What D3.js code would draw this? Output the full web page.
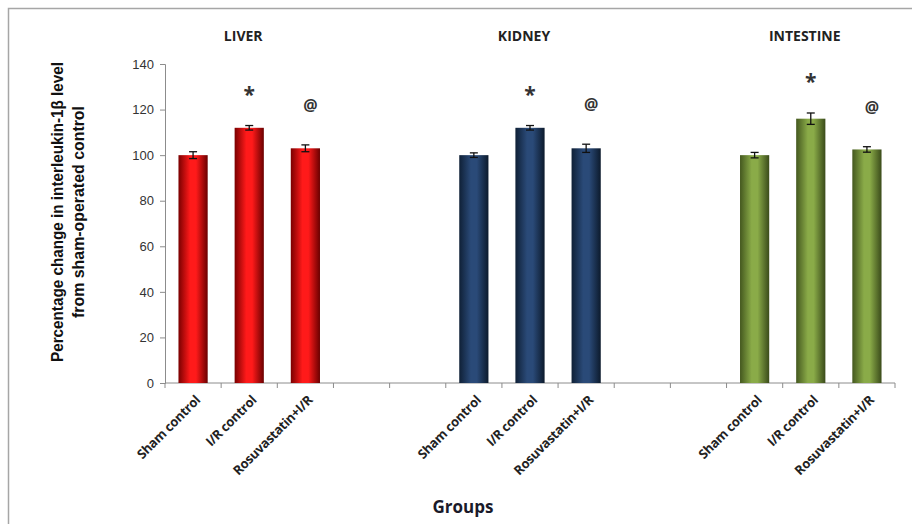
<!DOCTYPE html>
<html>
<head>
<meta charset="utf-8">
<script src="https://cdn.jsdelivr.net/npm/d3@7"></script>
<style>
  body { margin: 0; background: #fff; }
  svg { display: block; font-family: "Open Sans", "Liberation Sans", sans-serif; }
</style>
</head>
<body>
<div class="chart"></div>
<script>
// groups and treatments
let organs = ['LIVER', 'KIDNEY', 'INTESTINE'];
let treatments = ['Sham control', 'I/R control', 'Rosuvastatin+I/R'];
let marks = ['', '*', '@'];

// percentage of sham control (mean, error) per organ
let liverValues = [100, 112, 103];
let liverErrors = [1.5, 1, 1.5];
let kidneyValues = [100, 112, 103];
let kidneyErrors = [1, 1, 1.8];
let intestineValues = [100, 116, 102.5];
let intestineErrors = [1.2, 2.5, 1.2];

let yTicks = [0, 20, 40, 60, 80, 100, 120, 140];

let organColors = [
	['#7a0000', '#ff1a1a', '#6a0000'],
	['#0f2036', '#2a4a78', '#0c1a2c'],
	['#44581f', '#8aab48', '#3a4b1a']
];

let width = 912, height = 524;
let margin = {top: 64, right: 17, bottom: 141, left: 165};
let innerW = width - margin.left - margin.right;
let innerH = height - margin.top - margin.bottom;

let svg = d3.select('.chart')
	.append('svg')
	.attr('width', width)
	.attr('height', height);

// outer frame
svg.append('rect')
	.attr('x', 8.5).attr('y', 8.5)
	.attr('width', width + 10).attr('height', height + 10)
	.style('fill', 'none')
	.style('stroke', '#a6a6a6')
	.style('stroke-width', 1.5);

let defs = svg.append('defs');
organColors.forEach((c, i) => {
	let g = defs.append('linearGradient')
		.attr('id', 'grad' + i)
		.attr('x1', '0%').attr('x2', '100%')
		.attr('y1', '0%').attr('y2', '0%');
	g.append('stop').attr('offset', '0%').attr('stop-color', c[0]);
	g.append('stop').attr('offset', '40%').attr('stop-color', c[1]);
	g.append('stop').attr('offset', '60%').attr('stop-color', c[1]);
	g.append('stop').attr('offset', '100%').attr('stop-color', c[2]);
});

let chart = svg.append('g')
	.attr('transform', 'translate(' + margin.left + ', ' + margin.top + ')');

// slots: 3 bars per organ, 2 empty slots between organs
let slots = [];
let data = [];
let series = [
	[liverValues, liverErrors],
	[kidneyValues, kidneyErrors],
	[intestineValues, intestineErrors]
];
organs.forEach((o, oi) => {
	treatments.forEach((t, ti) => {
		let key = o + '|' + t;
		slots.push(key);
		data.push({organ: oi, treat: ti, key: key, label: t,
			value: series[oi][0][ti], err: series[oi][1][ti]});
	});
	if (oi < organs.length - 1) {
		slots.push('gap' + oi + 'a');
		slots.push('gap' + oi + 'b');
	}
});

let xScale = d3.scaleBand()
	.domain(slots)
	.range([0, innerW])
	.paddingInner(0.48)
	.paddingOuter(0.24);

let step = xScale.step();

let yScale = d3.scaleLinear()
	.domain([0, 140])
	.range([innerH, 0]);

// y axis
let yAxis = chart.append('g')
	.call(d3.axisLeft(yScale).tickValues(yTicks).tickSize(5).tickPadding(6));
yAxis.select('.domain').style('stroke', '#8c8c8c');
yAxis.selectAll('.tick line').style('stroke', '#8c8c8c');
yAxis.selectAll('.tick text')
	.style('font-size', '13px')
	.style('fill', '#333');

// x axis line with ticks at slot boundaries
let xAxisG = chart.append('g')
	.attr('transform', 'translate(0, ' + innerH + ')');
xAxisG.append('line')
	.attr('x1', 0).attr('x2', innerW)
	.style('stroke', '#8c8c8c');
xAxisG.selectAll('.xtick')
	.data(d3.range(slots.length + 1))
	.enter()
	.append('line')
	.attr('class', 'xtick')
	.attr('x1', d => d * step).attr('x2', d => d * step)
	.attr('y1', 0).attr('y2', 5)
	.style('stroke', '#8c8c8c');

// category labels
xAxisG.selectAll('.xlabel')
	.data(data)
	.enter()
	.append('text')
	.attr('class', 'xlabel')
	.attr('transform', d => 'translate(' + (xScale(d.key) + xScale.bandwidth() / 2 + 8) + ', 18) rotate(-45)')
	.attr('text-anchor', 'end')
	.style('font-size', '13px')
	.style('font-weight', 'bold')
	.style('letter-spacing', '-0.3px')
	.style('fill', '#222')
	.text(d => d.label);

// bars
chart.selectAll('.bar')
	.data(data)
	.enter()
	.append('rect')
	.attr('class', 'bar')
	.attr('x', d => xScale(d.key))
	.attr('width', xScale.bandwidth())
	.attr('y', d => yScale(d.value))
	.attr('height', d => innerH - yScale(d.value))
	.style('fill', d => 'url(#grad' + d.organ + ')');

// error bars
let errs = chart.selectAll('.err')
	.data(data)
	.enter()
	.append('g')
	.attr('class', 'err')
	.style('stroke', '#111')
	.style('stroke-width', 1.3);
errs.append('line')
	.attr('x1', d => xScale(d.key) + xScale.bandwidth() / 2)
	.attr('x2', d => xScale(d.key) + xScale.bandwidth() / 2)
	.attr('y1', d => yScale(d.value + d.err))
	.attr('y2', d => yScale(d.value - d.err));
errs.append('line')
	.attr('x1', d => xScale(d.key) + xScale.bandwidth() / 2 - 4)
	.attr('x2', d => xScale(d.key) + xScale.bandwidth() / 2 + 4)
	.attr('y1', d => yScale(d.value + d.err))
	.attr('y2', d => yScale(d.value + d.err));
errs.append('line')
	.attr('x1', d => xScale(d.key) + xScale.bandwidth() / 2 - 4)
	.attr('x2', d => xScale(d.key) + xScale.bandwidth() / 2 + 4)
	.attr('y1', d => yScale(d.value - d.err))
	.attr('y2', d => yScale(d.value - d.err));

// significance marks
chart.selectAll('.mark')
	.data(data.filter(d => marks[d.treat]))
	.enter()
	.append('text')
	.attr('class', 'mark')
	.attr('x', d => xScale(d.key) + xScale.bandwidth() / 2 + (d.treat === 2 ? 5 : 0))
	.attr('y', d => yScale(d.value + d.err) - (d.treat === 1 ? 24 : 34))
	.attr('text-anchor', 'middle')
	.style('font-size', d => d.treat === 1 ? '21px' : '16px')
	.style('font-weight', 'bold')
	.style('fill', '#333')
	.text(d => marks[d.treat]);

// organ titles
chart.selectAll('.organ')
	.data(organs)
	.enter()
	.append('text')
	.attr('class', 'organ')
	.attr('x', (d, i) => xScale(d + '|' + treatments[1]) + xScale.bandwidth() / 2 - 6)
	.attr('y', -23)
	.attr('text-anchor', 'middle')
	.style('font-size', '14px')
	.style('font-weight', 'bold')
	.style('fill', '#222')
	.text(d => d);

// y title
let yTitle = svg.append('text')
	.attr('transform', 'translate(63, 212) rotate(-90)')
	.attr('text-anchor', 'middle')
	.style('font-family', '"Liberation Sans", sans-serif')
	.style('font-size', '16px')
	.style('font-weight', 'bold')
	.style('fill', '#111');
yTitle.append('tspan')
	.attr('x', 0).attr('dy', 0)
	.attr('textLength', 300).attr('lengthAdjust', 'spacingAndGlyphs')
	.text('Percentage change in interleukin-1β level');
yTitle.append('tspan')
	.attr('x', 0).attr('dy', 21)
	.attr('textLength', 212).attr('lengthAdjust', 'spacingAndGlyphs')
	.text('from sham-operated control');

// x title
svg.append('text')
	.attr('x', 463)
	.attr('y', 513)
	.attr('text-anchor', 'middle')
	.style('font-size', '17px')
	.style('font-weight', 'bold')
	.style('fill', '#1a1a2a')
	.text('Groups');
</script>
</body>
</html>
